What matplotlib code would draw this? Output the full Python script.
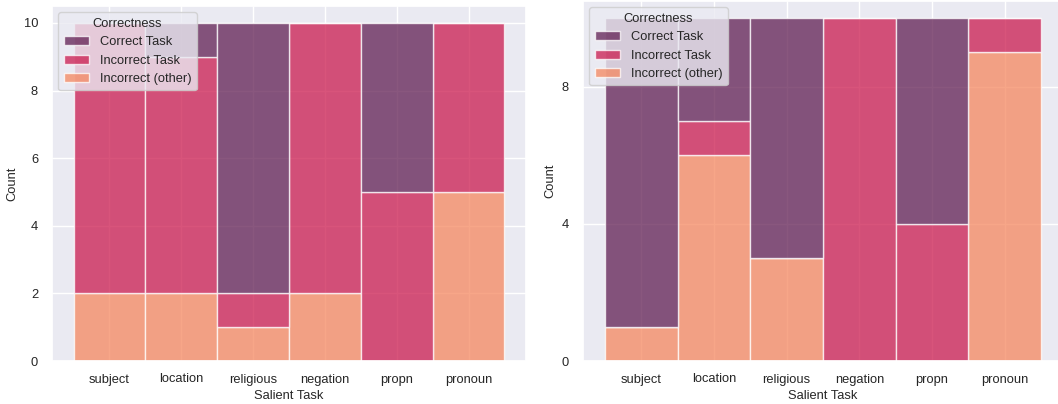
import matplotlib
matplotlib.use("Agg")
import matplotlib.pyplot as plt
import numpy as np
import seaborn as sns

# ---------------------------------------------------------------------------
# Data (counts per salient task, stacked by correctness)
# ---------------------------------------------------------------------------
tasks = ["subject", "location", "religious", "negation", "propn", "pronoun"]
hue_order = ["Correct Task", "Incorrect Task", "Incorrect (other)"]

# left panel
left_correct = [0, 1, 8, 0, 5, 0]
left_incorrect_task = [8, 7, 1, 8, 5, 5]
left_incorrect_other = [2, 2, 1, 2, 0, 5]

# right panel
right_correct = [9, 3, 7, 0, 6, 0]
right_incorrect_task = [0, 1, 0, 10, 4, 1]
right_incorrect_other = [1, 6, 3, 0, 0, 9]

sns.set_theme(style="darkgrid")
plt.rcParams["font.family"] = ["Liberation Sans", "DejaVu Sans"]
palette = sns.color_palette("rocket", 3)
FS = 9.3

W, H = 1058, 404
fig = plt.figure(figsize=(W / 100, H / 100), dpi=100)
ax_l = fig.add_axes([52 / W, 1 - 361 / H, 474 / W, 355 / H])
ax_r = fig.add_axes([583 / W, 1 - 361 / H, 480 / W, 360 / H])


def draw(ax, correct, inc_task, inc_other, yticks):
    x = np.arange(len(tasks))
    # bottom to top: other, incorrect task, correct
    layers = [(inc_other, 2), (inc_task, 1), (correct, 0)]
    bottom = np.zeros(len(tasks))
    for vals, ci in layers:
        vals = np.array(vals, dtype=float)
        ax.bar(x, vals, bottom=bottom, width=1.0, color=palette[ci], alpha=0.75,
               edgecolor="white", linewidth=1.0)
        bottom += vals
    ax.set_xticks(x)
    ax.set_xticklabels(tasks)
    ax.set_yticks(yticks)
    ax.tick_params(axis="x", labelsize=FS, pad=3)
    ax.tick_params(axis="y", labelsize=FS, pad=4)
    ax.set_xlim(-0.5 - 0.3, len(tasks) - 0.5 + 0.3)
    ax.set_ylim(0, 10.5)
    ax.set_xlabel("Salient Task", fontsize=FS, labelpad=3)
    ax.set_ylabel("Count", fontsize=FS, labelpad=4)
    handles = [plt.Rectangle((0, 0), 1, 1, facecolor=palette[i], alpha=0.75,
                             edgecolor="white") for i in range(3)]
    ax.legend(handles, hue_order, title="Correctness", loc="upper left",
              fontsize=FS, title_fontsize=FS)


draw(ax_l, left_correct, left_incorrect_task, left_incorrect_other, [0, 2, 4, 6, 8, 10])
draw(ax_r, right_correct, right_incorrect_task, right_incorrect_other, [0, 4, 8])

fig.savefig("out.png", dpi=100)
